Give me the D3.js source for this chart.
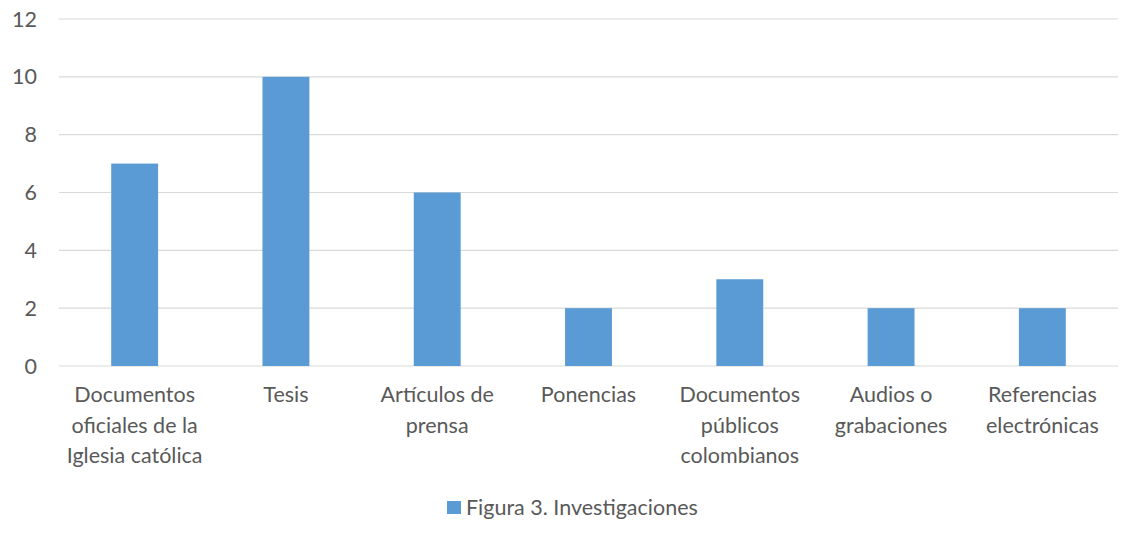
<!DOCTYPE html>
<html>
<head>
<meta charset="utf-8">
<script src="https://cdn.jsdelivr.net/npm/d3@7"></script>
<style>
  body { margin: 0; background: #fff; }
  text { font-family: Lato, "Open Sans", sans-serif; fill: #595959; }
</style>
</head>
<body>
<div id="chart"></div>
<script>
// Data
const categories = [
	['Documentos', 'oficiales de la', 'Iglesia católica'],
	['Tesis'],
	['Artículos de', 'prensa'],
	['Ponencias'],
	['Documentos', 'públicos', 'colombianos'],
	['Audios o', 'grabaciones'],
	['Referencias', 'electrónicas']
]
const values = [7, 10, 6, 2, 3, 2, 2]
const yTicks = [0, 2, 4, 6, 8, 10, 12]
const seriesName = 'Figura 3. Investigaciones'

function draw() {
	let dimensions = {
		width: 1122,
		height: 546,
		margin: { top: 19, bottom: 180, left: 59, right: 4 }
	}
	dimensions.ctrWidth = dimensions.width - dimensions.margin.left - dimensions.margin.right
	dimensions.ctrHeight = dimensions.height - dimensions.margin.top - dimensions.margin.bottom

	const fontSize = '21.5px'

	const svg = d3.select('#chart')
		.append('svg')
		.attr('width', dimensions.width)
		.attr('height', dimensions.height)

	const ctr = svg.append('g')
		.attr('transform', `translate(${dimensions.margin.left}, ${dimensions.margin.top})`)

	// Scales
	const xScale = d3.scaleBand()
		.domain(d3.range(values.length))
		.range([0, dimensions.ctrWidth])
		.paddingInner(0.69)
		.paddingOuter(0.345)

	const yScale = d3.scaleLinear()
		.domain([0, 12])
		.range([dimensions.ctrHeight, 0])

	// Gridlines
	ctr.selectAll('.grid')
		.data(yTicks)
		.join('line')
		.attr('x1', 0)
		.attr('x2', dimensions.ctrWidth)
		.attr('y1', d => yScale(d))
		.attr('y2', d => yScale(d))
		.attr('stroke', '#d9d9d9')
		.attr('stroke-width', 1.2)

	// Y axis labels
	ctr.selectAll('.ytick')
		.data(yTicks)
		.join('text')
		.attr('x', -22)
		.attr('y', d => yScale(d))
		.attr('dy', '0.35em')
		.attr('text-anchor', 'end')
		.style('font-size', fontSize)
		.text(d => d)

	// Bars
	ctr.selectAll('rect')
		.data(values)
		.join('rect')
		.attr('x', (d, i) => xScale(i))
		.attr('y', d => yScale(d))
		.attr('width', xScale.bandwidth())
		.attr('height', d => yScale(0) - yScale(d))
		.attr('fill', '#5b9bd5')

	// X labels
	const xl = ctr.selectAll('.xlab')
		.data(categories)
		.join('text')
		.attr('text-anchor', 'middle')
		.attr('transform', (d, i) => `translate(${xScale(i) + xScale.bandwidth() / 2}, ${dimensions.ctrHeight + 36})`)
		.style('font-size', fontSize)
	xl.selectAll('tspan')
		.data(d => d)
		.join('tspan')
		.attr('x', 0)
		.attr('y', (d, i) => i * 30.5)
		.text(d => d)

	// Legend
	const legend = svg.append('g')
	legend.append('rect')
		.attr('x', 447)
		.attr('y', 501)
		.attr('width', 14)
		.attr('height', 13)
		.attr('fill', '#5b9bd5')
	legend.append('text')
		.attr('x', 466)
		.attr('y', 515)
		.style('font-size', fontSize)
		.text(seriesName)
}

draw()
</script>
</body>
</html>
